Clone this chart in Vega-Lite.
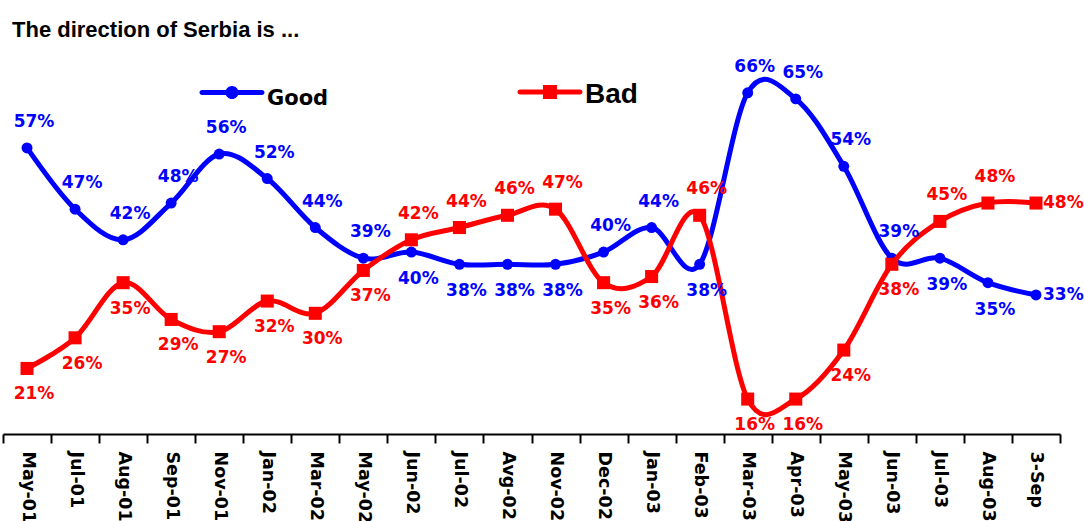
{
  "$schema": "https://vega.github.io/schema/vega-lite/v6.json",
  "width": 1057,
  "height": 427,
  "autosize": {"type": "none"},
  "padding": {"left": 3, "top": 7, "right": 24, "bottom": 87},
  "background": "white",
  "title": {
    "text": "The direction of Serbia is ...",
    "anchor": "start",
    "frame": "group",
    "orient": "top",
    "offset": -29,
    "baseline": "alphabetic",
    "dx": 9,
    "dy": 23,
    "font": "Liberation Sans",
    "fontSize": 22,
    "fontWeight": "bold",
    "color": "black"
  },
  "config": {"view": {"stroke": null}},
  "data": {
    "values": [
      {"month": "May-01", "Good": 0.57, "Bad": 0.21},
      {"month": "Jul-01", "Good": 0.47, "Bad": 0.26},
      {"month": "Aug-01", "Good": 0.42, "Bad": 0.35},
      {"month": "Sep-01", "Good": 0.48, "Bad": 0.29},
      {"month": "Nov-01", "Good": 0.56, "Bad": 0.27},
      {"month": "Jan-02", "Good": 0.52, "Bad": 0.32},
      {"month": "Mar-02", "Good": 0.44, "Bad": 0.30},
      {"month": "May-02", "Good": 0.39, "Bad": 0.37},
      {"month": "Jun-02", "Good": 0.40, "Bad": 0.42},
      {"month": "Jul-02", "Good": 0.38, "Bad": 0.44},
      {"month": "Avg-02", "Good": 0.38, "Bad": 0.46},
      {"month": "Nov-02", "Good": 0.38, "Bad": 0.47},
      {"month": "Dec-02", "Good": 0.40, "Bad": 0.35},
      {"month": "Jan-03", "Good": 0.44, "Bad": 0.36},
      {"month": "Feb-03", "Good": 0.38, "Bad": 0.46},
      {"month": "Mar-03", "Good": 0.66, "Bad": 0.16},
      {"month": "Apr-03", "Good": 0.65, "Bad": 0.16},
      {"month": "May-03", "Good": 0.54, "Bad": 0.24},
      {"month": "Jun-03", "Good": 0.39, "Bad": 0.38},
      {"month": "Jul-03", "Good": 0.39, "Bad": 0.45},
      {"month": "Aug-03", "Good": 0.35, "Bad": 0.48},
      {"month": "3-Sep", "Good": 0.33, "Bad": 0.48}
    ]
  },
  "encoding": {
    "x": {
      "field": "month",
      "type": "nominal",
      "sort": null,
      "scale": {"type": "band", "paddingInner": 0, "paddingOuter": 0},
      "axis": {
        "title": null,
        "tickBand": "extent",
        "domainColor": "black",
        "domainWidth": 2,
        "tickColor": "black",
        "tickWidth": 2,
        "tickSize": 9,
        "labelAngle": 90,
        "labelAlign": "left",
        "labelBaseline": "middle",
        "labelPadding": 8,
        "labelFont": "DejaVu Sans",
        "labelFontSize": 17.5,
        "labelFontWeight": "bold",
        "labelColor": "black",
        "labelOverlap": false,
        "labelBound": false,
        "labelFlush": false,
        "labelLimit": 0
      }
    }
  },
  "layer": [
    {
      "mark": {"type": "line", "interpolate": "cardinal", "strokeWidth": 5, "strokeCap": "round", "strokeJoin": "round"},
      "encoding": {
        "y": {"field": "Good", "type": "quantitative", "scale": {"domain": [0.103, 0.8], "nice": false, "zero": false}, "axis": null},
        "color": {
          "datum": "Good",
          "type": "nominal",
          "scale": {"domain": ["Good", "Bad"], "range": ["#0000ff", "#ff0000"]},
          "legend": {
            "title": null,
            "orient": "none",
            "legendX": 199,
            "legendY": 55,
            "direction": "horizontal",
            "padding": 0,
            "columnPadding": 188,
            "labelOffset": 5,
            "symbolSize": 3600,
            "symbolStrokeWidth": 0,
            "labelColor": "black",
            "labelLimit": 0,
            "encode": {
              "symbols": {
                "update": {
                  "shape": {"signal": "datum.value === 'Bad' ? 'M-1,-0.083H1A0.083,0.083 0 0 1 1,0.083H-1A0.083,0.083 0 0 1 -1,-0.083Z M-0.233,-0.233H0.233V0.233H-0.233Z' : 'M-1,-0.083H1A0.083,0.083 0 0 1 1,0.083H-1A0.083,0.083 0 0 1 -1,-0.083Z M0.217,0A0.217,0.217 0 1 1 -0.217,0A0.217,0.217 0 1 1 0.217,0Z'"},
                  "fill": {"signal": "datum.value === 'Bad' ? '#ff0000' : '#0000ff'"},
                  "stroke": {"value": "transparent"},
                  "strokeWidth": {"value": 0},
                  "opacity": {"value": 1}
                }
              },
              "labels": {
                "update": {
                  "font": {"signal": "datum.value === 'Bad' ? 'Liberation Sans' : 'DejaVu Sans'"},
                  "fontSize": {"signal": "datum.value === 'Bad' ? 28 : 21"},
                  "fontWeight": {"value": "bold"},
                  "dy": {"signal": "datum.value === 'Bad' ? 3 : 6"}
                }
              }
            }
          }
        }
      }
    },
    {
      "mark": {"type": "point", "shape": "circle", "filled": true, "size": 120, "opacity": 1},
      "encoding": {
        "y": {"field": "Good", "type": "quantitative", "scale": {"domain": [0.103, 0.8], "nice": false, "zero": false}, "axis": null},
        "color": {"datum": "Good", "type": "nominal"}
      }
    },
    {
      "mark": {"type": "line", "interpolate": "cardinal", "strokeWidth": 5, "strokeCap": "round", "strokeJoin": "round"},
      "encoding": {
        "y": {"field": "Bad", "type": "quantitative", "scale": {"domain": [0.103, 0.8], "nice": false, "zero": false}, "axis": null},
        "color": {"datum": "Bad", "type": "nominal"}
      }
    },
    {
      "mark": {"type": "point", "shape": "square", "filled": true, "size": 170, "opacity": 1},
      "encoding": {
        "y": {"field": "Bad", "type": "quantitative", "scale": {"domain": [0.103, 0.8], "nice": false, "zero": false}, "axis": null},
        "color": {"datum": "Bad", "type": "nominal"}
      }
    },
    {
      "transform": [{"filter": "datum.month !== '3-Sep' && datum.Good >= datum.Bad"}],
      "mark": {"type": "text", "dx": 7, "dy": -26, "baseline": "middle", "align": "center", "font": "DejaVu Sans", "fontSize": 17, "fontWeight": "bold", "color": "#0000ff"},
      "encoding": {
        "y": {"field": "Good", "type": "quantitative", "scale": {"domain": [0.103, 0.8], "nice": false, "zero": false}, "axis": null},
        "text": {"field": "Good", "type": "quantitative", "format": ".0%"}
      }
    },
    {
      "transform": [{"filter": "datum.month !== '3-Sep' && datum.Good < datum.Bad"}],
      "mark": {"type": "text", "dx": 7, "dy": 27, "baseline": "middle", "align": "center", "font": "DejaVu Sans", "fontSize": 17, "fontWeight": "bold", "color": "#0000ff"},
      "encoding": {
        "y": {"field": "Good", "type": "quantitative", "scale": {"domain": [0.103, 0.8], "nice": false, "zero": false}, "axis": null},
        "text": {"field": "Good", "type": "quantitative", "format": ".0%"}
      }
    },
    {
      "transform": [{"filter": "datum.month !== '3-Sep' && datum.Bad > datum.Good"}],
      "mark": {"type": "text", "dx": 7, "dy": -26, "baseline": "middle", "align": "center", "font": "DejaVu Sans", "fontSize": 17, "fontWeight": "bold", "color": "#ff0000"},
      "encoding": {
        "y": {"field": "Bad", "type": "quantitative", "scale": {"domain": [0.103, 0.8], "nice": false, "zero": false}, "axis": null},
        "text": {"field": "Bad", "type": "quantitative", "format": ".0%"}
      }
    },
    {
      "transform": [{"filter": "datum.month !== '3-Sep' && datum.Bad <= datum.Good"}],
      "mark": {"type": "text", "dx": 7, "dy": 26, "baseline": "middle", "align": "center", "font": "DejaVu Sans", "fontSize": 17, "fontWeight": "bold", "color": "#ff0000"},
      "encoding": {
        "y": {"field": "Bad", "type": "quantitative", "scale": {"domain": [0.103, 0.8], "nice": false, "zero": false}, "axis": null},
        "text": {"field": "Bad", "type": "quantitative", "format": ".0%"}
      }
    },
    {
      "transform": [{"filter": "datum.month === '3-Sep'"}],
      "mark": {"type": "text", "dx": 7, "baseline": "middle", "align": "left", "font": "DejaVu Sans", "fontSize": 17, "fontWeight": "bold", "color": "#0000ff"},
      "encoding": {
        "y": {"field": "Good", "type": "quantitative", "scale": {"domain": [0.103, 0.8], "nice": false, "zero": false}, "axis": null},
        "text": {"field": "Good", "type": "quantitative", "format": ".0%"}
      }
    },
    {
      "transform": [{"filter": "datum.month === '3-Sep'"}],
      "mark": {"type": "text", "dx": 7, "baseline": "middle", "align": "left", "font": "DejaVu Sans", "fontSize": 17, "fontWeight": "bold", "color": "#ff0000"},
      "encoding": {
        "y": {"field": "Bad", "type": "quantitative", "scale": {"domain": [0.103, 0.8], "nice": false, "zero": false}, "axis": null},
        "text": {"field": "Bad", "type": "quantitative", "format": ".0%"}
      }
    }
  ]
}
